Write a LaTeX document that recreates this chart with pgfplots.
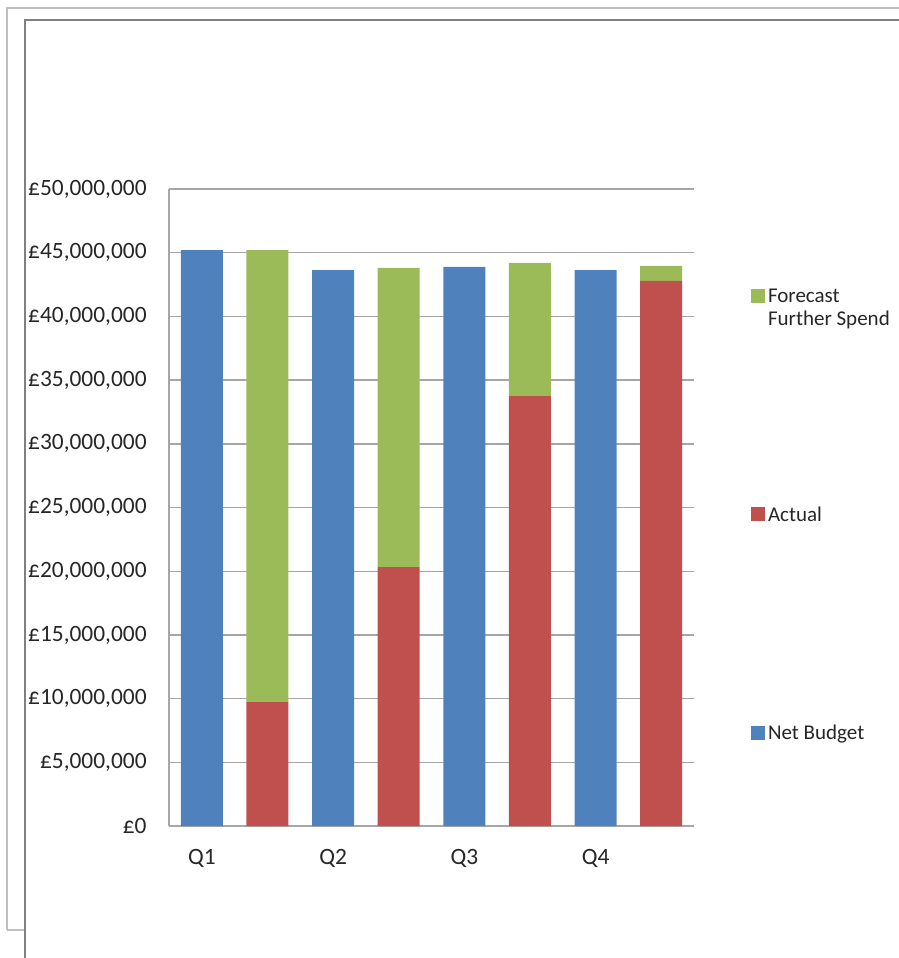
\documentclass[border=0pt]{standalone}
\usepackage{fontspec}
\setmainfont{Carlito}
\usepackage{pgfplots}
\pgfplotsset{compat=1.18}
\definecolor{cBlue}{HTML}{4F81BD}
\definecolor{cRed}{HTML}{C0504D}
\definecolor{cGreen}{HTML}{9BBB59}
\definecolor{cGrid}{HTML}{A6A6A6}
\newcommand{\cfont}{\fontsize{10.5}{11.5}\selectfont}
\newcommand{\tfont}{\fontsize{11.7}{13}\selectfont}
\begin{document}
\begin{tikzpicture}
\useasboundingbox (0pt,0pt) rectangle (449.5pt,-479pt);
% frame
\draw[color=black!25,line width=1pt] (3.5pt,-465pt) -- (3.5pt,-4pt) -- (449.5pt,-4pt);
\draw[color=black!25,line width=1pt] (3.5pt,-465pt) -- (12.5pt,-465pt);
\draw[color=black!50,line width=1pt] (12.5pt,-479pt) -- (12.5pt,-10pt) -- (449.5pt,-10pt);
\begin{axis}[
  at={(84.5pt,-413pt)}, anchor=south west,
  scale only axis, width=262.5pt, height=318.5pt,
  ybar stacked, bar width=21pt,
  xmin=-0.5, xmax=7.5, ymin=0, ymax=50000000,
  xtick={0,2,4,6}, xticklabels={Q1,Q2,Q3,Q4},
  ytick={0,5000000,...,50000000},
  scaled y ticks=false,
  /pgf/number format/assume math mode=true,
  yticklabel={£\pgfmathprintnumber[fixed,precision=0,1000 sep={,}]{\tick}},
  axis x line*=bottom, axis y line*=left,
  axis line style={draw=cGrid, line width=0.7pt, -},
  major tick length=0pt, tick style={draw=none},
  ymajorgrids, grid style={draw=cGrid, line width=0.7pt},
  tick label style={font=\tfont, text=black!85},
  yticklabel style={inner sep=0pt, xshift=-11pt},
  xticklabel style={inner sep=0pt, yshift=-11.5pt},
  reverse legend,
  legend cell align=left,
  legend style={draw=none, fill=none, inner sep=0pt, outer sep=0pt,
    at={(1.1086,0.843)}, anchor=north west, font=\cfont,
    row sep=101.75pt,
    nodes={inner xsep=1.5pt, inner ysep=0pt, text height=0pt, text depth=0pt, text=black!85}},
  legsq/.style={legend image code/.code={\fill[##1] (0pt,-0.1pt) rectangle (7pt,6.9pt);}},
]
\addplot[fill=cBlue, draw=none, legsq] coordinates {(0,45200000) (1,0) (2,43640000) (3,0) (4,43880000) (5,0) (6,43640000) (7,0)};
\addplot[fill=cRed, draw=none, legsq] coordinates {(0,0) (1,9730000) (2,0) (3,20330000) (4,0) (5,33750000) (6,0) (7,42780000)};
\addplot[fill=cGreen, draw=none, legsq] coordinates {(0,0) (1,35470000) (2,0) (3,23470000) (4,0) (5,10450000) (6,0) (7,1180000)};
\legend{Net Budget, Actual, {\begin{tabular}[t]{@{}l@{}}Forecast\\Further Spend\end{tabular}}}
\end{axis}
\end{tikzpicture}
\end{document}
